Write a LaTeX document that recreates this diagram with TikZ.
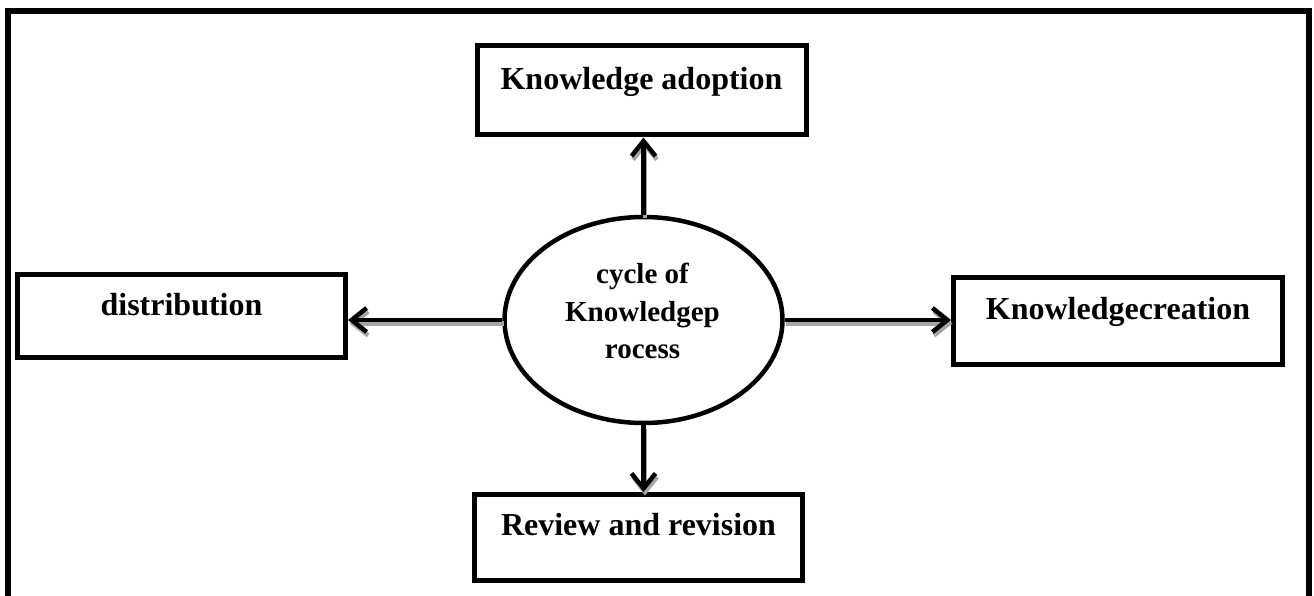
\documentclass[tikz,border=0pt]{standalone}
\usepackage{fontspec}
\setmainfont{Liberation Serif}
\usetikzlibrary{arrows.meta,shapes.geometric}
\begin{document}
\begin{tikzpicture}[x=1pt,y=-1pt,
  stepbox/.style={draw, rectangle, line width=5pt, inner sep=0pt,
    font=\bfseries\fontsize{32}{38}\selectfont},
  cyclenode/.style={draw, ellipse, line width=4.5pt, inner sep=0pt,
    minimum width=278pt, minimum height=206pt},
  cycletext/.style={align=center, inner sep=0pt,
    font=\bfseries\fontsize{29}{37.5}\selectfont},
  link/.style={line width=4.5pt, -{Straight Barb[length=15pt,width=24pt]}},
  linkshade/.style={link, draw=black!35, transform canvas={shift={(1.5pt,-3.5pt)}}},
  frame/.style={line width=5.5pt}
]
\useasboundingbox (0,0) rectangle (1314,596);
\clip (0,0) rectangle (1314,596);

% outer frame (runs past the lower edge)
\draw[frame] (8,640) -- (8,11) -- (1309,11) -- (1309,640);

% central ellipse and its caption
\node[cyclenode] (ell) at (643.5,320) {};
\node[cycletext] (elltxt) at (642.5,311) {cycle of\\Knowledgep\\rocess};

% the four stages
\node[stepbox, minimum width=329pt, text height=44pt, text depth=45pt]
  (adopt) at (641.5,90.5) {Knowledge adoption};
\node[stepbox, minimum width=328pt, text height=40.5pt, text depth=42.5pt]
  (distr) at (181.5,316) {distribution};
\node[stepbox, minimum width=329pt, text height=41.5pt, text depth=45.5pt]
  (create) at (1118,321) {Knowledgecreation};
\node[stepbox, minimum width=328pt, text height=40.5pt, text depth=45.5pt]
  (review) at (638.5,537.5) {Review and revision};

% grey shadows of the connectors
\draw[linkshade] (ell.north) -- (ell.north |- adopt.south);
\draw[linkshade] (ell.west) -- (ell.west -| distr.east);
\draw[linkshade] (ell.east) -- (ell.east -| create.west);
\draw[linkshade] (ell.south) -- (ell.south |- review.north);

% connectors
\draw[link] (ell.north) -- (ell.north |- adopt.south);
\draw[link] (ell.west) -- (ell.west -| distr.east);
\draw[link] (ell.east) -- (ell.east -| create.west);
\draw[link] (ell.south) -- (ell.south |- review.north);
\end{tikzpicture}
\end{document}
